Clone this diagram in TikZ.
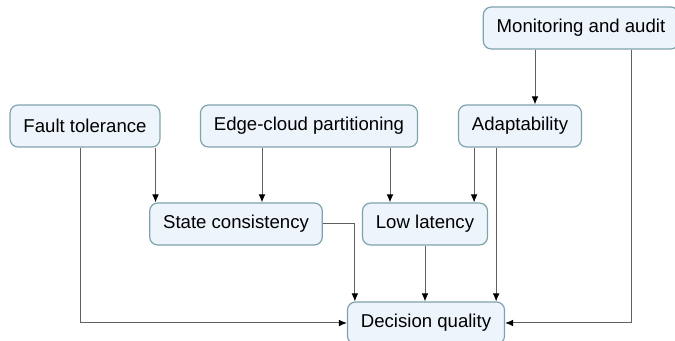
\documentclass[tikz,border=0pt]{standalone}
\usepackage{fontspec}
\setmainfont{Liberation Sans}
\usepackage{xcolor}
\usetikzlibrary{positioning,calc,arrows.meta}
\definecolor{boxfill}{HTML}{EEF4FB}
\definecolor{boxedge}{HTML}{7FA3AD}
\definecolor{wire}{HTML}{606060}

\begin{document}
\begin{tikzpicture}[x=0.5pt, y=0.5pt, factor/.style={draw=boxedge, fill=boxfill, line width=0.6pt, rounded corners=4pt, inner xsep=6.7pt, inner ysep=3pt, minimum height=21pt, align=center, font=\fontsize{9.3}{11}\selectfont}, link/.style={-{Latex[length=4pt,width=3.4pt,color=black]}, draw=wire, line width=0.5pt}]
\useasboundingbox (0,0) rectangle (675,-341);
\node[factor] (mon) at (581,-28) {Monitoring and audit};
\node[factor] (fault) at (85,-126) {Fault tolerance};
\node[factor] (edge) at (309,-126) {Edge-cloud partitioning};
\node[factor] (adapt) at (520,-126) {Adaptability};
\node[factor] (state) at (236,-224) {State consistency};
\node[factor] (low) at (425,-224) {Low latency};
\node[factor] (dec) at (426,-323) {Decision quality};
\draw[link] ([xshift=7.5pt]adapt.north |- mon.south) -- ([xshift=7.5pt]adapt.north);
\draw[link] ([xshift=25pt]mon.south) |- (dec.east);
\draw[link] ([xshift=-2.5pt]fault.south) |- (dec.west);
\draw[link] ([xshift=-2.5pt]fault.south east) -- ([xshift=-2.5pt]fault.south east |- state.north);
\draw[link] ([xshift=13pt]state.north |- edge.south) -- ([xshift=13pt]state.north);
\draw[link] ([xshift=-17.5pt]low.north |- edge.south) -- ([xshift=-17.5pt]low.north);
\draw[link] ([xshift=-7pt]low.north east |- adapt.south) -- ([xshift=-7pt]low.north east);
\draw[link] ([xshift=-4.5pt]dec.north east |- adapt.south) -- ([xshift=-4.5pt]dec.north east);
\draw[link] (low.south) -- (low.south |- dec.north);
\draw[link] (state.east) -| ([xshift=4pt]dec.north west);
\end{tikzpicture}
\end{document}
